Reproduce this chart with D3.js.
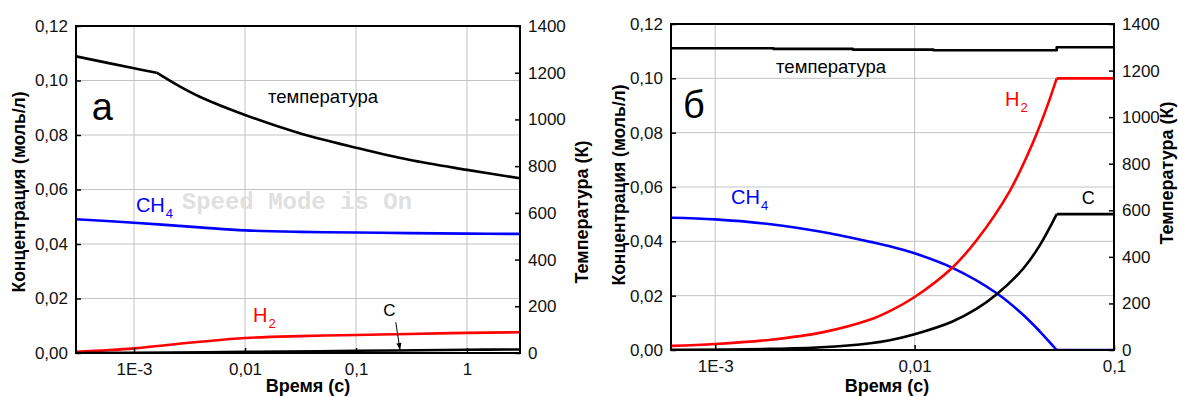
<!DOCTYPE html>
<html><head><meta charset="utf-8">
<script src="https://cdn.jsdelivr.net/npm/d3@7"></script>
<style>
body{margin:0;background:#fff}
svg{display:block;font-family:"Liberation Sans",Arial,sans-serif}
</style>
</head><body><svg id="c" width="1178" height="397"></svg>
<script>
// ---------- data ----------
const concTicks = [0, 0.02, 0.04, 0.06, 0.08, 0.10, 0.12];
const tempTicks = [0, 200, 400, 600, 800, 1000, 1200, 1400];
const xTicksA = [1e-3, 0.01, 0.1, 1];
const xLabelsA = ["1E-3", "0,01", "0,1", "1"];
const xTicksB = [1e-3, 0.01, 0.1];
const xLabelsB = ["1E-3", "0,01", "0,1"];

// panel а
const timeA_T = [3e-4, 1e-3, 1.6e-3, 2.6e-3, 3.9e-3, 0.01, 0.031, 0.1, 0.3, 1, 3];
const tempA   = [1270, 1219, 1200, 1140, 1097, 1019, 941, 879, 827, 784, 748];
const timeA_CH4 = [3e-4, 1e-3, 3.9e-3, 0.01, 0.031, 0.1, 0.3, 1, 3];
const ch4A      = [0.0491, 0.0478, 0.0461, 0.0450, 0.04445, 0.0442, 0.0440, 0.0438, 0.0437];
const timeA_H2 = [3e-4, 1e-3, 3.9e-3, 0.01, 0.031, 0.1, 0.3, 1, 3];
const h2A      = [0.0004, 0.0017, 0.0041, 0.0055, 0.0062, 0.0066, 0.0070, 0.0074, 0.0076];
const timeA_C = [3e-4, 1e-3, 0.01, 0.1, 1, 3];
const cA      = [0.0000, 0.0001, 0.0004, 0.0008, 0.0012, 0.0013];

// panel б
const timeB_T = [6e-4, 1.96e-3, 4.9e-3, 0.0124, 0.0516, 0.1];
const tempB   = [1296, 1293, 1290, 1287, 1300, 1300];
const timeB_CH4 = [6e-4, 1e-3, 1.9e-3, 3.4e-3, 6e-3, 7.5e-3, 0.01, 0.0154, 0.0258, 0.0351, 0.0425, 0.0516, 0.1];
const ch4B      = [0.0487, 0.0481, 0.0463, 0.0435, 0.0398, 0.0382, 0.0356, 0.0303, 0.0209, 0.0129, 0.0068, 0, 0];
const timeB_H2 = [6e-4, 1e-3, 1.9e-3, 3.4e-3, 6e-3, 7.5e-3, 0.01, 0.0154, 0.0205, 0.0301, 0.0394, 0.046, 0.0516, 0.1];
const h2B      = [0.0015, 0.0022, 0.0038, 0.0064, 0.0112, 0.0143, 0.0195, 0.0302, 0.0405, 0.0587, 0.0767, 0.0893, 0.1000, 0.1000];
const timeB_C = [6e-4, 1.9e-3, 3.4e-3, 6e-3, 7.5e-3, 0.01, 0.0154, 0.0205, 0.0258, 0.0351, 0.0425, 0.0516, 0.1];
const cB      = [0.0001, 0.0004, 0.0010, 0.0025, 0.0036, 0.0058, 0.0104, 0.0152, 0.0205, 0.0300, 0.0386, 0.0500, 0.0500];

// ---------- drawing ----------
const svg = d3.select("#c");
const fmtC = d => d.toFixed(2).replace(".", ",");
const smooth = d3.curveCatmullRom.alpha(0.5);

function panel(cfg) {
  const x = d3.scaleLog().domain(cfg.xDomain).range([cfg.left, cfg.right]);
  const yC = d3.scaleLinear().domain([0, 0.12]).range([cfg.bottom, cfg.top]);
  const yT = d3.scaleLinear().domain([0, 1400]).range([cfg.bottom, cfg.top]);
  const g = svg.append("g");

  // grid
  g.append("g").selectAll("line").data(concTicks.filter(d => d > 0 && d < 0.12)).join("line")
    .attr("x1", cfg.left).attr("x2", cfg.right)
    .attr("y1", d => yC(d)).attr("y2", d => yC(d))
    .attr("stroke", "#c2c2c2").attr("stroke-width", 1);
  g.append("g").selectAll("line").data(cfg.xTicks.filter(d => x(d) > cfg.left + 2 && x(d) < cfg.right - 2)).join("line")
    .attr("y1", cfg.top).attr("y2", cfg.bottom)
    .attr("x1", d => x(d)).attr("x2", d => x(d))
    .attr("stroke", "#c2c2c2").attr("stroke-width", 1);

  // series
  const clip = "clip" + cfg.id;
  g.append("clipPath").attr("id", clip).append("rect")
    .attr("x", cfg.left).attr("y", cfg.top - 2).attr("width", cfg.right - cfg.left).attr("height", cfg.bottom - cfg.top + 2);
  const sg = g.append("g").attr("clip-path", `url(#${clip})`);
  cfg.series.forEach(s => {
    const y = s.axis === "T" ? yT : yC;
    const pts = s.t.map((t, i) => [t, s.v[i]]);
    let pieces;
    if (s.corner !== undefined) {
      pieces = [pts.filter(p => p[0] <= s.corner), pts.filter(p => p[0] >= s.corner)];
    } else pieces = [pts];
    pieces.forEach(pc => {
      const line = d3.line().x(p => x(p[0])).y(p => y(p[1])).curve(s.curve || smooth);
      sg.append("path").attr("d", line(pc)).attr("fill", "none")
        .attr("stroke", s.color).attr("stroke-width", 2.6).attr("stroke-linejoin", "round");
    });
  });

  // frame
  g.append("rect").attr("x", cfg.left).attr("y", cfg.top)
    .attr("width", cfg.right - cfg.left).attr("height", cfg.bottom - cfg.top)
    .attr("fill", "none").attr("stroke", "#000").attr("stroke-width", 2);

  const styleAxis = s => {
    s.select(".domain").remove();
    s.selectAll("line").attr("stroke-width", 1.5);
    s.selectAll("text").attr("font-size", 17).attr("font-family", "Liberation Sans, Arial, sans-serif").attr("fill", "#111");
  };
  g.append("g").attr("transform", `translate(0,${cfg.bottom})`)
    .call(d3.axisBottom(x).tickValues(cfg.xTicks).tickFormat((d, i) => cfg.xLabels[i])
      .tickSizeInner(-5).tickSizeOuter(0).tickPadding(10)).call(styleAxis);
  g.append("g").attr("transform", `translate(${cfg.left},0)`)
    .call(d3.axisLeft(yC).tickValues(concTicks).tickFormat(fmtC)
      .tickSizeInner(-5).tickSizeOuter(0).tickPadding(8)).call(styleAxis);
  g.append("g").attr("transform", `translate(${cfg.right},0)`)
    .call(d3.axisRight(yT).tickValues(tempTicks).tickFormat(d3.format("d"))
      .tickSizeInner(-5).tickSizeOuter(0).tickPadding(8)).call(styleAxis);

  // axis titles
  const rot = (tx, ty, txt, fs) => g.append("text")
    .attr("transform", `translate(${tx},${ty}) rotate(-90)`)
    .attr("text-anchor", "middle").attr("dy", "0.35em")
    .attr("font-size", fs).attr("font-weight", "bold").text(txt);
  rot(cfg.ltX, cfg.ltY, "Концентрация (моль/л)", 17.5);
  rot(cfg.rtX, cfg.rtY, "Температура (К)", 18);
  g.append("text").attr("x", cfg.btX).attr("y", cfg.btY).attr("text-anchor", "middle")
    .attr("font-size", 18).attr("font-weight", "bold").text("Время (с)");

  // annotations
  cfg.notes.forEach(n => {
    const t = g.append("text").attr("x", x(n.t)).attr("y", yC(n.c))
      .attr("font-size", n.size).attr("fill", n.color || "#000")
      .attr("text-anchor", n.anchor || "start");
    if (n.font) t.attr("font-family", n.font).attr("font-weight", "bold");
    t.append("tspan").text(n.text);
    if (n.sub) t.append("tspan").attr("font-size", 13).attr("dy", 6).attr("dx", 1).text(n.sub);
  });
  if (cfg.arrow) {
    const a = cfg.arrow;
    const x1 = x(a.t1), y1 = yC(a.c1), x2 = x(a.t2), y2 = yC(a.c2);
    g.append("line").attr("x1", x1).attr("y1", y1).attr("x2", x2).attr("y2", y2)
      .attr("stroke", "#000").attr("stroke-width", 1);
    const ang = Math.atan2(y2 - y1, x2 - x1), L = 7, w = 2.5;
    const bx = x2 - L * Math.cos(ang), by = y2 - L * Math.sin(ang);
    g.append("path").attr("d",
      `M${x2},${y2}L${bx + w * Math.sin(ang)},${by - w * Math.cos(ang)}L${bx - w * Math.sin(ang)},${by + w * Math.cos(ang)}Z`)
      .attr("fill", "#000");
  }
}

panel({
  id: "A", left: 76, right: 520, top: 26, bottom: 353, xDomain: [3e-4, 3],
  xTicks: xTicksA, xLabels: xLabelsA,
  ltX: 19, ltY: 192, rtX: 582, rtY: 212, btX: 308, btY: 392,
  series: [
    { t: timeA_T, v: tempA, axis: "T", color: "#000", corner: 1.6e-3 },
    { t: timeA_CH4, v: ch4A, color: "#0000ff" },
    { t: timeA_H2, v: h2A, color: "#ff0000" },
    { t: timeA_C, v: cA, color: "#000" }
  ],
  notes: [
    { text: "Speed Mode is On", t: 2.69e-3, c: 0.0527, size: 24, color: "#e0e0e0", font: "Liberation Mono, Courier New, monospace" },
    { text: "а", t: 4.16e-4, c: 0.0855, size: 38 },
    { text: "температура", t: 0.0161, c: 0.0917, size: 18.5 },
    { text: "CH", sub: "4", t: 1.04e-3, c: 0.0519, size: 20, color: "#0000ff" },
    { text: "H", sub: "2", t: 0.0118, c: 0.0115, size: 20, color: "#ff0000" },
    { text: "C", t: 0.2, c: 0.0134, size: 17, anchor: "middle" }
  ],
  arrow: { t1: 0.228, c1: 0.0113, t2: 0.249, c2: 0.0011 }
});

panel({
  id: "B", left: 671, right: 1114, top: 24, bottom: 350, xDomain: [6e-4, 0.1],
  xTicks: xTicksB, xLabels: xLabelsB,
  ltX: 619, ltY: 185, rtX: 1167, rtY: 173, btX: 887, btY: 392,
  series: [
    { t: timeB_T, v: tempB, axis: "T", color: "#000", curve: d3.curveStepAfter },
    { t: timeB_CH4, v: ch4B, color: "#0000ff", corner: 0.0516 },
    { t: timeB_H2, v: h2B, color: "#ff0000", corner: 0.0516 },
    { t: timeB_C, v: cB, color: "#000", corner: 0.0516 }
  ],
  notes: [
    { text: "б", t: 6.9e-4, c: 0.0853, size: 38 },
    { text: "температура", t: 2.02e-3, c: 0.1021, size: 18.5 },
    { text: "CH", sub: "4", t: 1.2e-3, c: 0.0537, size: 20, color: "#0000ff" },
    { text: "H", sub: "2", t: 0.0284, c: 0.0898, size: 20, color: "#ff0000" },
    { text: "C", t: 0.0689, c: 0.0537, size: 18 }
  ]
});
</script>
</body></html>
